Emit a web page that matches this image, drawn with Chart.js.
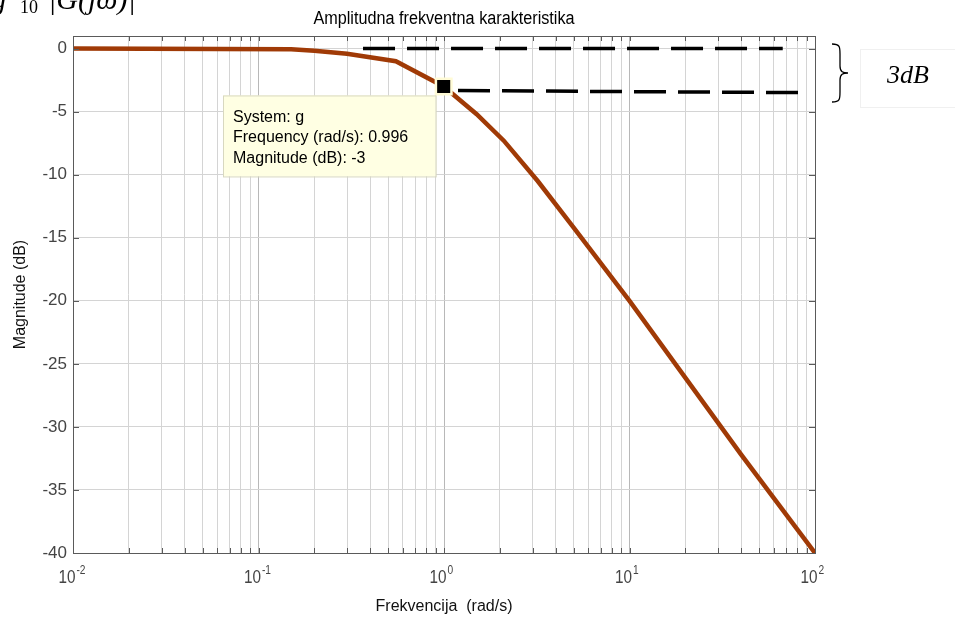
<!DOCTYPE html>
<html>
<head>
<meta charset="utf-8">
<script src="https://cdn.jsdelivr.net/npm/chart.js@4/dist/chart.umd.min.js"></script>
<style>
  html, body { margin: 0; padding: 0; background: #fff; }
  #bode { display: block; }
</style>
</head>
<body>
<canvas id="bode" width="955" height="618"></canvas>
<script>
// Magnitude response
const freq  = [0.01, 0.15, 0.2, 0.3, 0.55, 0.996, 1.5, 2.1, 3.2, 5, 10, 40, 100];
const magDb = [0, -0.05, -0.17, -0.4, -1.0, -3, -5.2, -7.3, -10.5, -14.2, -20, -32.2, -40];

// dashed guide lines marking the 3 dB drop
const refTopFreq = [0.366, 67];
const refTopDb   = [0, 0];
const refLowFreq = [1.19, 81];
const refLowDb   = [-3.33, -3.49];

// data tip
const tipFreq  = [0.996];
const tipDb    = [-3];
const tipLines = ["System: g", "Frequency (rad/s): 0.996", "Magnitude (dB): -3"];

// axes
const decades   = [0.01, 0.1, 1, 10, 100];
const decadeExp = ["-2", "-1", "0", "1", "2"];
const yTicks    = [0, -5, -10, -15, -20, -25, -30, -35, -40];

const FONT = "'Liberation Sans', Arial, sans-serif";
const SERIF = "'Liberation Serif', 'Times New Roman', serif";
const CURVE = "#a03a06";

// minor log ticks 1..9 x decade
const xTickVals = [];
decades.forEach((d, i) => {
  if (i < decades.length - 1) {
    for (let m = 1; m < 10; m++) xTickVals.push(+(m * d).toPrecision(3));
  } else xTickVals.push(d);
});

const pts = (xs, ys) => xs.map((x, i) => ({ x: x, y: ys[i] }));

// Box, inner ticks, decade labels, title, data tip and the 3dB note
const decorations = {
  id: "decorations",
  afterDraw(chart) {
    const ctx = chart.ctx;
    const a = chart.chartArea;
    const xs = chart.scales.x, ys = chart.scales.y;
    ctx.save();

    // axes box + inner ticks
    ctx.strokeStyle = "#5a5a5a";
    ctx.lineWidth = 1;
    ctx.strokeRect(a.left + 0.5, a.top + 0.5, a.right - a.left, a.bottom - a.top);
    ctx.beginPath();
    xTickVals.forEach(v => {
      const px = Math.round(xs.getPixelForValue(v)) + 0.5;
      ctx.moveTo(px, a.bottom); ctx.lineTo(px, a.bottom - 5);
      ctx.moveTo(px, a.top); ctx.lineTo(px, a.top + 5);
    });
    yTicks.forEach(v => {
      const py = Math.round(ys.getPixelForValue(v)) + 0.5;
      ctx.moveTo(a.left, py); ctx.lineTo(a.left + 6, py);
      ctx.moveTo(a.right, py); ctx.lineTo(a.right - 6, py);
    });
    ctx.stroke();

    // decade labels 10^n with a raised exponent
    ctx.fillStyle = "#444";
    ctx.textBaseline = "alphabetic";
    decades.forEach((d, i) => {
      const px = xs.getPixelForValue(d);
      ctx.save();
      ctx.translate(px, a.bottom + 30);
      ctx.scale(0.85, 1);
      ctx.font = "18px " + FONT;
      ctx.textAlign = "right";
      ctx.fillText("10", 3, 0);
      ctx.font = "12px " + FONT;
      ctx.textAlign = "left";
      ctx.fillText(decadeExp[i], 4, -9);
      ctx.restore();
    });

    // title (slightly condensed like the source)
    ctx.fillStyle = "#000";
    ctx.font = "18px " + FONT;
    ctx.textAlign = "center";
    ctx.save();
    ctx.translate((a.left + a.right) / 2, 24);
    ctx.scale(0.9, 1);
    ctx.fillText("Amplitudna frekventna karakteristika", 0, 0);
    ctx.restore();

    // formula cut off at the top edge
    ctx.textAlign = "left";
    ctx.font = "italic 30px " + SERIF;
    ctx.fillText("20log", -62, 9);
    ctx.font = "18px " + SERIF;
    ctx.fillText("10", 20, 13);
    ctx.font = "italic 30px " + SERIF;
    ctx.fillText("|G(j\u03C9)|", 48, 9);

    // data tip
    const mx = xs.getPixelForValue(tipFreq[0]);
    const my = ys.getPixelForValue(tipDb[0]);
    const bx = 223, bw = mx - 8 - bx, by = my + 9, bh = 81;
    ctx.fillStyle = "#ffffe3";
    ctx.fillRect(bx, by, bw, bh);
    ctx.strokeStyle = "#d8d8c0";
    ctx.strokeRect(bx + 0.5, by + 0.5, bw, bh);
    ctx.fillStyle = "#000";
    ctx.font = "16px " + FONT;
    ctx.textBaseline = "middle";
    tipLines.forEach((t, i) => ctx.fillText(t, bx + 10, by + 22 + i * 20.5));

    // 3 dB brace and label
    ctx.strokeStyle = "#000";
    ctx.lineWidth = 1.3;
    const bxl = 832, top = 44, bot = 102, mid = (top + bot) / 2, tip = 848;
    ctx.beginPath();
    ctx.moveTo(bxl, top);
    ctx.bezierCurveTo(bxl + 8, top, bxl + 8, top + 3, bxl + 8, top + 10);
    ctx.lineTo(bxl + 8, mid - 7);
    ctx.bezierCurveTo(bxl + 8, mid - 1, bxl + 11, mid, tip, mid);
    ctx.bezierCurveTo(bxl + 11, mid, bxl + 8, mid + 1, bxl + 8, mid + 7);
    ctx.lineTo(bxl + 8, bot - 10);
    ctx.bezierCurveTo(bxl + 8, bot - 3, bxl + 8, bot, bxl, bot);
    ctx.stroke();
    ctx.strokeStyle = "#f0f0f0";
    ctx.lineWidth = 1;
    ctx.strokeRect(860.5, 49.5, 100, 58);
    ctx.fillStyle = "#000";
    ctx.font = "italic 26px " + SERIF;
    ctx.fillText("3dB", 887, 76);

    ctx.restore();
  }
};

new Chart(document.getElementById("bode"), {
  type: "scatter",
  data: {
    datasets: [
      {
        label: "tip",
        data: pts(tipFreq, tipDb),
        pointStyle: "rect",
        pointRadius: 11,
        pointBackgroundColor: "#000",
        pointBorderColor: "#fffbd6",
        pointBorderWidth: 2.5,
        showLine: false,
        clip: false,
        order: 0
      },
      {
        label: "g",
        data: pts(freq, magDb),
        showLine: true,
        borderColor: CURVE,
        borderWidth: 4.5,
        pointRadius: 0,
        order: 3
      },
      {
        label: "0 dB",
        data: pts(refTopFreq, refTopDb),
        showLine: true,
        borderColor: "#000",
        borderWidth: 3.5,
        borderDash: [32, 12],
        pointRadius: 0,
        order: 2
      },
      {
        label: "-3 dB",
        data: pts(refLowFreq, refLowDb),
        showLine: true,
        borderColor: "#000",
        borderWidth: 3.5,
        borderDash: [32, 12],
        pointRadius: 0,
        order: 1
      }
    ]
  },
  options: {
    responsive: false,
    animation: false,
    devicePixelRatio: 1,
    layout: { padding: { top: 36, right: 140, left: 0, bottom: 0 } },
    plugins: { legend: { display: false }, tooltip: { enabled: false } },
    scales: {
      x: {
        type: "logarithmic",
        min: 0.01,
        max: 100,
        afterBuildTicks: s => { s.ticks = xTickVals.map(v => ({ value: v })); },
        afterFit: s => { s.height = 65; },
        ticks: { autoSkip: false, maxRotation: 0, display: false },
        grid: {
          drawTicks: false,
          tickLength: 0,
          color: c => decades.includes(c.tick && c.tick.value) ? "#b8b8b8" : "#d4d4d4"
        },
        border: { color: "#5a5a5a" },
        title: {
          display: true,
          text: "Frekvencija  (rad/s)",
          color: "#111",
          font: { family: FONT, size: 16 },
          padding: { top: 0, bottom: 2 }
        }
      },
      y: {
        min: -40,
        max: 1,
        afterBuildTicks: s => { s.ticks = yTicks.map(v => ({ value: v })); },
        afterFit: s => { s.width = 73; },
        ticks: {
          padding: 6,
          color: "#444",
          font: { family: FONT, size: 17 }
        },
        grid: { drawTicks: false, tickLength: 0, color: "#d4d4d4" },
        border: { color: "#5a5a5a" },
        title: {
          display: true,
          text: "Magnitude (dB)",
          color: "#111",
          font: { family: FONT, size: 16 },
          padding: { top: 11, bottom: 4 }
        }
      }
    }
  },
  plugins: [decorations]
});
</script>
</body>
</html>
